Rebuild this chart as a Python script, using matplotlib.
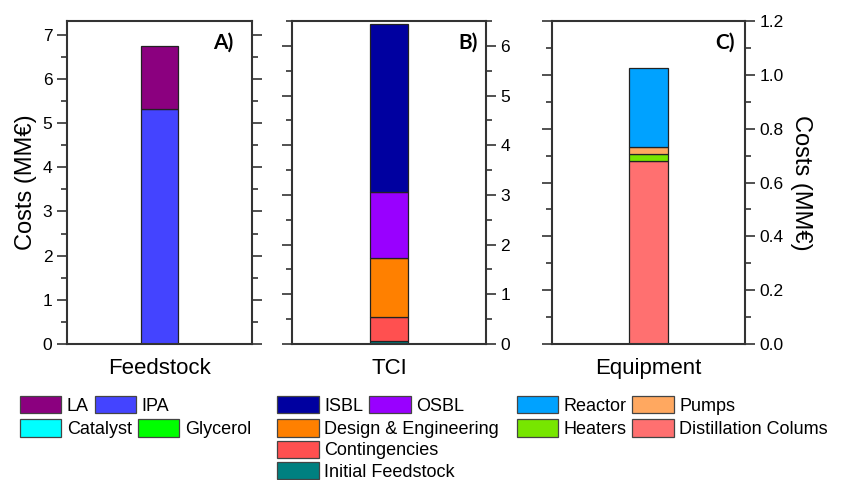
import matplotlib
matplotlib.use('Agg')
import matplotlib.pyplot as plt
from matplotlib.patches import Patch
from matplotlib.ticker import MultipleLocator, FormatStrFormatter

plt.rcParams['font.family'] = ['Liberation Sans', 'DejaVu Sans']

# feedstock costs (MM€), stacked bottom to top
feed_names = ['Catalyst', 'Glycerol', 'IPA', 'LA']
feed_vals = [0.0, 0.0, 5.32, 1.43]
feed_colors = ['#00FFFF', '#00FF00', '#4444FF', '#8B007F']

# total capital investment (MM€)
tci_names = ['Initial Feedstock', 'Contingencies', 'Design & Engineering', 'OSBL', 'ISBL']
tci_vals = [0.07, 0.475, 1.185, 1.33, 3.38]
tci_colors = ['#008080', '#FF5050', '#FF8000', '#9900FF', '#0000A0']

# equipment costs (MM€)
eq_names = ['Distillation Colums', 'Heaters', 'Pumps', 'Reactor']
eq_vals = [0.68, 0.025, 0.027, 0.292]
eq_colors = ['#FF7070', '#77E600', '#FFA860', '#00A2FF']

fig = plt.figure(figsize=(8.46, 4.80), dpi=100)
spine_c = '#333333'
tag_font = ['Lato', 'DejaVu Sans']


def stacked(ax, label, names, vals, colors):
    bottom = 0
    for n, v, c in zip(names, vals, colors):
        ax.bar(0, v, width=0.2, bottom=bottom, color=c, edgecolor='#222222', linewidth=0.9)
        bottom += v
    ax.set_xlim(-0.5, 0.5)
    ax.set_xticks([0])
    ax.set_xticklabels([label], fontsize=16)
    ax.tick_params(axis='x', length=0, pad=10)
    for s in ax.spines.values():
        s.set_color(spine_c)
        s.set_linewidth(1.5)
    ax.tick_params(axis='y', which='both', direction='out', left=True, right=True,
                   color=spine_c, width=1.2, labelsize=12.5)
    ax.tick_params(axis='y', which='major', length=7)
    ax.tick_params(axis='y', which='minor', length=4)


axA = fig.add_axes([0.0792, 0.2833, 0.2187, 0.6729])
stacked(axA, 'Feedstock', feed_names, feed_vals, feed_colors)
axA.set_ylim(0, 7.31)
axA.yaxis.set_major_locator(MultipleLocator(1))
axA.yaxis.set_minor_locator(MultipleLocator(0.5))
axA.set_ylabel('Costs (MM€)', fontsize=17, labelpad=4)
axA.text(0.90, 0.965, 'A)', transform=axA.transAxes, ha='right', va='top',
         fontsize=15, fontweight='bold', family=tag_font)

axB = fig.add_axes([0.3452, 0.2833, 0.2293, 0.6729])
stacked(axB, 'TCI', tci_names, tci_vals, tci_colors)
axB.set_ylim(0, 6.5)
axB.yaxis.set_major_locator(MultipleLocator(1))
axB.yaxis.set_minor_locator(MultipleLocator(0.5))
axB.tick_params(axis='y', which='both', labelleft=False, labelright=True)
axB.text(0.955, 0.965, 'B)', transform=axB.transAxes, ha='right', va='top',
         fontsize=15, fontweight='bold', family=tag_font)

axC = fig.add_axes([0.6521, 0.2833, 0.2285, 0.6729])
stacked(axC, 'Equipment', eq_names, eq_vals, eq_colors)
axC.set_ylim(0, 1.2)
axC.yaxis.set_major_locator(MultipleLocator(0.2))
axC.yaxis.set_minor_locator(MultipleLocator(0.1))
axC.yaxis.set_major_formatter(FormatStrFormatter('%.1f'))
axC.tick_params(axis='y', which='both', labelleft=False, labelright=True)
axC.yaxis.set_label_position('right')
axC.set_ylabel('Costs (MM€)', fontsize=17, rotation=270, labelpad=20)
axC.text(0.948, 0.965, 'C)', transform=axC.transAxes, ha='right', va='top',
         fontsize=15, fontweight='bold', family=tag_font)


# legend rows, each its own row like the original
def legend_row(x, y, names, colors):
    handles = [Patch(facecolor=c, edgecolor='#444444', linewidth=0.9) for c in colors]
    fig.legend(handles, names, loc='center left', bbox_to_anchor=(x, y), ncol=len(names),
               frameon=False, borderpad=0, borderaxespad=0, handlelength=2.3,
               handleheight=1.12, handletextpad=0.3, columnspacing=0.32,
               prop={'size': 13})


r1, r2, r3, r4 = 0.1556, 0.107, 0.0625, 0.0185
legend_row(0.0236, r1, ['LA', 'IPA'], [feed_colors[3], feed_colors[2]])
legend_row(0.0236, r2, ['Catalyst', 'Glycerol'], [feed_colors[0], feed_colors[1]])
legend_row(0.3278, r1, ['ISBL', 'OSBL'], [tci_colors[4], tci_colors[3]])
legend_row(0.3278, r2, ['Design & Engineering'], [tci_colors[2]])
legend_row(0.3278, r3, ['Contingencies'], [tci_colors[1]])
legend_row(0.3278, r4, ['Initial Feedstock'], [tci_colors[0]])
legend_row(0.6107, r1, ['Reactor', 'Pumps'], [eq_colors[3], eq_colors[2]])
legend_row(0.6107, r2, ['Heaters', 'Distillation Colums'], [eq_colors[1], eq_colors[0]])

fig.savefig('out.png', dpi=100)
